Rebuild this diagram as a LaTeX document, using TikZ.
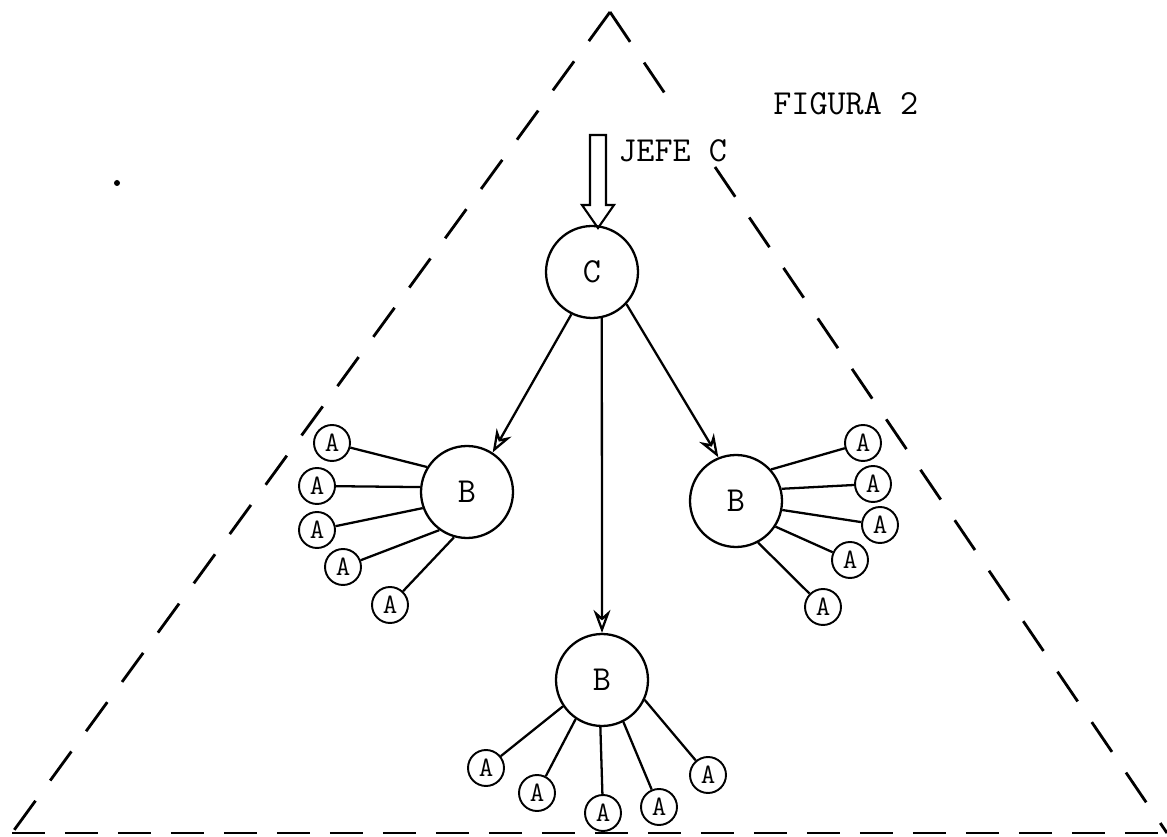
\documentclass[tikz,border=0pt]{standalone}
\usetikzlibrary{arrows.meta}
\begin{document}
\begin{tikzpicture}[x=0.02cm,y=-0.02cm,
  big/.style={circle,draw,line width=1.3pt,minimum size=1.84cm,inner sep=0pt,font=\fontsize{20}{24}\selectfont\ttfamily},
  small/.style={circle,draw,line width=1.1pt,minimum size=0.72cm,inner sep=0pt,font=\fontsize{16}{18}\selectfont\ttfamily},
  link/.style={line width=1.3pt},
  feed/.style={line width=1.3pt,-{Stealth[open,length=0.46cm,width=0.34cm]}},
  legdash/.style={line width=1.6pt,dash pattern=on 0.72cm off 0.5cm},
  basedash/.style={line width=1.6pt,dash pattern=on 0.66cm off 0.4cm},
  lbl/.style={font=\fontsize{20}{24}\selectfont\ttfamily,inner sep=0pt}
]
\useasboundingbox (0,0) rectangle (1167,837);
% triangle
\coordinate (apex) at (610,12);
\coordinate (bl) at (12,833);
\coordinate (br) at (1167,833);
\coordinate (gapA) at (674,107);
\coordinate (gapB) at (715,167);
\draw[legdash] (apex) -- (bl);
\draw[legdash] (apex) -- (gapA);
\draw[legdash] (gapB) -- (br);
\draw[basedash] (bl) -- (br);
% labels
\node[lbl,anchor=west] (fig) at (773,104) {FIGURA 2};
\node[lbl,anchor=west] (jefe) at (618,151) {JEFE C};
% main nodes
\node[big] (C) at (592,272) {C};
\node[big] (BL) at (467,492) {B};
\node[big] (BR) at (736,501) {B};
\node[big] (BB) at (602,680) {B};
% hollow arrow into C
\coordinate (jtip) at (598,228);
\draw[line width=1.2pt,line join=miter] (590,135) -- (590,205) -- (582,205) -- (jtip) -- (614,205) -- (606,205) -- (606,135) -- cycle;
% arrows C -> B
\draw[feed] (C.244) -- (BL.57);
\draw[feed] (C.-78) -- (BB.90);
\draw[feed] (C.-43) -- (BR.112);
% left A nodes
\node[small] (l1) at (332,443) {A};
\node[small] (l2) at (317,486) {A};
\node[small] (l3) at (317,530) {A};
\node[small] (l4) at (343,567) {A};
\node[small] (l5) at (390,605) {A};
\draw[link] (l1) -- (BL.148);
\draw[link] (l2) -- (BL.174);
\draw[link] (l3) -- (BL.200);
\draw[link] (l4) -- (BL.234);
\draw[link] (l5) -- (BL.254);
% right A nodes
\node[small] (r1) at (863,443) {A};
\node[small] (r2) at (873,484) {A};
\node[small] (r3) at (880,525) {A};
\node[small] (r4) at (850,560) {A};
\node[small] (r5) at (823,607) {A};
\draw[link] (r1) -- (BR.42);
\draw[link] (r2) -- (BR.15);
\draw[link] (r3) -- (BR.-11);
\draw[link] (r4) -- (BR.-33);
\draw[link] (r5) -- (BR.-62);
% bottom A nodes
\node[small] (b1) at (486,768) {A};
\node[small] (b2) at (537,793) {A};
\node[small] (b3) at (603,813) {A};
\node[small] (b4) at (659,807) {A};
\node[small] (b5) at (708,775) {A};
\draw[link] (b1) -- (BB.214);
\draw[link] (b2) -- (BB.236);
\draw[link] (b3) -- (BB.268);
\draw[link] (b4) -- (BB.297);
\draw[link] (b5) -- (BB.335);
% speck
\fill (117,183) circle[radius=3];
\end{tikzpicture}
\end{document}
